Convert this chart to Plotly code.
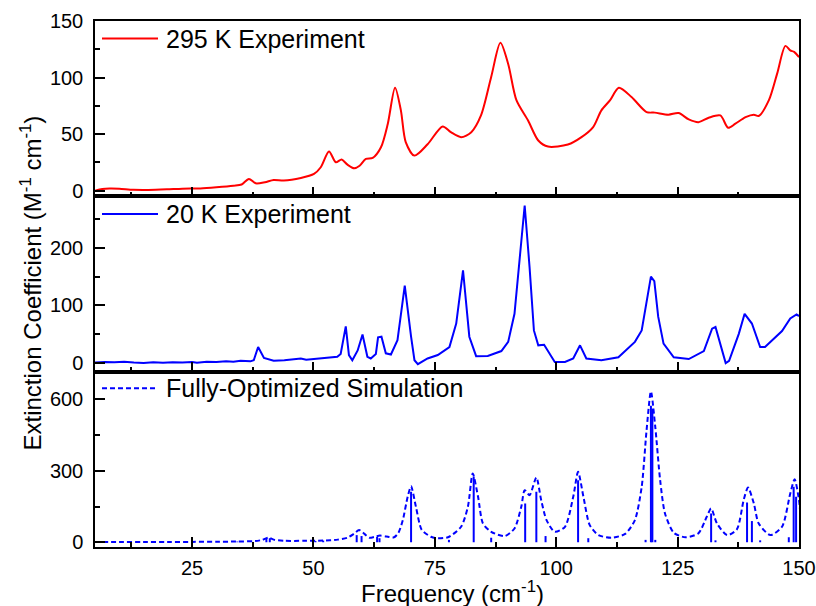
import plotly.graph_objects as go
from plotly.subplots import make_subplots

# ---------------- data ----------------
red_x = [5, 6.5, 8, 10, 12.9, 16, 19.8, 23, 26.7, 30, 33.5, 35.2, 36.7, 38.1, 40, 41.8,
         43.9, 47.4, 50.1, 51.5, 53.2, 54.6, 55.8, 57, 58.4, 59.5, 60.8, 62.2, 63.9, 65.3,
         66.8, 68, 69, 70.8, 73.5, 76.6, 78.3, 80.4, 82.5, 84.5, 86.6, 88.5, 90.1, 91.8,
         94.2, 96.3, 98.3, 102.4, 105.2, 107.6, 109.3, 111.1, 112.9, 115.5, 118.6, 120.3,
         123.1, 125.2, 127.3, 129.3, 131.4, 133.8, 135.4, 136.9, 139, 140.7, 141.7, 143.8,
         145.5, 147.2, 148.2, 149, 150]
red_y = [0, 1.5, 2, 1.8, 0.8, 0.7, 1.2, 1.8, 2, 3, 4.4, 5.5, 10.4, 6.5, 7.5, 9.5,
         8.9, 11.2, 14.8, 20.7, 34.6, 25.1, 27.5, 23, 19.8, 22, 28.1, 29, 38.4, 59,
         91, 71, 43, 31, 41, 56.8, 51.7, 47.3, 51.7, 66.5, 100.5, 130.7, 112, 80,
         62, 44.4, 39, 40.8, 47.3, 56.2, 71, 80, 91, 82.8, 69.5, 69,
         67.2, 68.6, 63, 60.6, 64.5, 66.5, 55.6, 59.2, 65, 67.2, 66, 80,
         103.5, 128, 124, 122.7, 118]

blue_x = [5, 7, 9, 11, 13, 15, 17, 19, 21, 23, 25, 26, 28, 30, 32, 33.5, 35, 37, 37.7,
          38.6, 39.8, 41.8, 44, 46, 47.4, 48.5, 51, 54.9, 55.6, 56.65, 57.3, 58.0, 59.1,
          60.1, 61.1, 61.8, 62.85, 63.3, 64.0, 64.9, 65.95, 67.3, 68.8, 69.4, 70.1, 70.8,
          71.5, 73.5, 75.6, 78, 79.4, 80.8, 82.1, 83.5, 85.9, 88.7, 90.1, 91.4, 93.5, 94.5,
          95.4, 96.3, 97.5, 99.7, 101.8, 103.5, 104.9, 106.2, 109.3, 112.8, 116.2, 117.6,
          119.5, 120.2, 121, 122.1, 124.2, 127.3, 130.4, 132.1, 132.8, 134.9, 135.6, 137.6,
          138.8, 140.3, 142, 143, 144.8, 146.5, 148.2, 149.5, 150]
blue_y = [0, 1, 0.5, 1.5, 0, -1, 0.5, -0.5, 0.5, 0, 1, -0.5, 1.5, 1, 2, 1.5, 3, 2, 4,
          27, 8, 3, 4, 5, 7, 5, 7, 10, 15, 63, 13, 4, 21,
          49, 10, 7, 15, 44, 45, 16, 14, 39, 134, 91, 45, 4,
          -3, 7, 13, 27, 68, 161, 45, 11, 11.5, 20, 36, 85, 274, 167,
          56, 30, 31, 1, 1, 7, 30, 7, 4, 9, 36, 56,
          150, 142, 80, 33, 9, 6, 20, 59, 62, -1, 3, 50,
          85, 68, 27, 27, 42, 55, 77, 84, 81]

sim_x = [5, 10, 15, 20, 25, 30, 34, 38, 39.5, 40.7, 42, 44, 48, 52, 55, 57, 58.3, 59.4,
         60.5, 61.5, 62.5, 63.7, 65, 66.6, 67.5, 68.4, 69.4, 70.1, 71.1, 72.3, 74.2, 75.2,
         77.7, 80.4, 81.8, 82.8, 83.9, 84.9, 86.6, 89.4, 91.4, 92.8, 93.5, 94.5, 95.9,
         96.9, 98, 99.7, 101.8, 103.5, 104.5, 105.6, 106.9, 108.7, 111.4, 114.2, 116.2,
         117.6, 118.6, 119.5, 120.4, 121.4, 122.4, 124.2, 126.6, 129.3, 131, 131.9, 133.1,
         135.2, 137.2, 138.6, 139.5, 140.7, 141.7, 144.1, 146.5, 148.2, 149.1, 150, 150.3]
sim_y = [1, 1, 1, 1, 1.5, 2, 3, 5, 10, 19, 10, 6, 6, 7, 11, 19, 35, 51,
         35, 19, 22, 28, 24, 21, 40, 93, 191, 235, 149, 52, 23, 17,
         21, 65, 149, 289, 191, 79, 44, 26, 58, 149, 219, 198, 272,
         177, 93, 44, 65, 191, 296, 191, 72, 30, 19, 35, 93,
         233, 470, 634, 484, 261, 121, 40, 21, 38, 107, 142, 79,
         30, 54, 177, 230, 163, 79, 30, 65, 205, 265, 177, 114]

stick_pos = [34.3, 40.3, 41.0, 50.4, 52.0, 58.9, 59.9, 63.1, 63.6, 70.1, 77.9, 83.0,
             86.6, 93.6, 95.9, 97.8, 104.5, 106.6, 118.4, 119.5, 119.8, 120.4, 131.9,
             132.8, 139.3, 140.3, 142.0, 147.9, 148.9, 149.4]
stick_h = [3, 17, 17, 5, 7, 30, 26, 23, 17, 212, 10, 275,
           19, 163, 212, 26, 261, 17, 10, 574, 561, 10, 121,
           8, 167, 89, 8, 21, 233, 191]

labels = ["295 K Experiment", "20 K Experiment", "Fully-Optimized Simulation"]
x_ticks = [25, 50, 75, 100, 125, 150]

# ---------------- figure ----------------
RED = "#ff0000"
BLUE = "#0000ff"
FONT = "Arial, Liberation Sans, sans-serif"

fig = make_subplots(rows=3, cols=1, shared_xaxes=True, vertical_spacing=0)

fig.add_trace(go.Scatter(x=red_x, y=red_y, mode="lines", line=dict(color=RED, width=2, shape="spline", smoothing=0.8),
                         showlegend=False), row=1, col=1)
fig.add_trace(go.Scatter(x=blue_x, y=blue_y, mode="lines", line=dict(color=BLUE, width=2),
                         showlegend=False), row=2, col=1)

sx, sy = [], []
for p, h in zip(stick_pos, stick_h):
    sx += [p, p, None]
    sy += [0, h, None]
fig.add_trace(go.Scatter(x=sx, y=sy, mode="lines", line=dict(color=BLUE, width=2),
                         showlegend=False), row=3, col=1)
fig.add_trace(go.Scatter(x=sim_x, y=sim_y, mode="lines",
                         line=dict(color=BLUE, width=2, dash="5px,3px", shape="spline", smoothing=0.7),
                         showlegend=False), row=3, col=1)

axis_common = dict(showline=True, linewidth=1.5, linecolor="black", mirror=True,
                   ticks="inside", ticklen=10, tickwidth=1.5, tickcolor="black",
                   showgrid=False, zeroline=False, automargin=False,
                   tickfont=dict(family=FONT, size=20, color="black"))

for r in (1, 2, 3):
    fig.update_xaxes(range=[5, 150], tickmode="array", tickvals=x_ticks,
                     minor=dict(ticks="inside", ticklen=5, tickwidth=1.5, tickcolor="black",
                                tickmode="array", tickvals=[12.5, 37.5, 62.5, 87.5, 112.5, 137.5]),
                     showticklabels=(r == 3), ticklabelstandoff=2, **axis_common, row=r, col=1)

fig.update_yaxes(range=[-5, 150], tickvals=[0, 50, 100, 150],
                 minor=dict(ticks="inside", ticklen=5, tickwidth=1.5, tickcolor="black", tickvals=[25, 75, 125]),
                 ticklabelstandoff=6, **axis_common, row=1, col=1)
fig.update_yaxes(range=[-16, 290], tickvals=[0, 100, 200],
                 minor=dict(ticks="inside", ticklen=5, tickwidth=1.5, tickcolor="black", tickvals=[50, 150, 250]),
                 ticklabelstandoff=6, **axis_common, row=2, col=1)
fig.update_yaxes(range=[-20, 717], tickvals=[0, 300, 600],
                 minor=dict(ticks="inside", ticklen=5, tickwidth=1.5, tickcolor="black", tickvals=[150, 450]),
                 ticklabelstandoff=6, **axis_common, row=3, col=1)

W, H = 816, 606
L, R, T, B = 95, 17, 21, 59
PW, PH = W - L - R, H - T - B

def px2paper(px, py):
    return (px - L) / PW, (H - B - py) / PH

# legends (manual, to match sample length)
legend_rows = [(38.5, RED, "solid"), (214, BLUE, "solid"), (388.3, BLUE, "5px,3px")]
for (py, col, dash), txt in zip(legend_rows, labels):
    x0, y0 = px2paper(102, py)
    x1, _ = px2paper(158, py)
    fig.add_shape(type="line", xref="paper", yref="paper", x0=x0, x1=x1, y0=y0, y1=y0,
                  line=dict(color=col, width=2, dash=dash))
    tx, ty = px2paper(164, py)
    fig.add_annotation(text=txt, xref="paper", yref="paper", x=tx, y=ty, xanchor="left",
                       yanchor="middle", showarrow=False,
                       font=dict(family=FONT, size=25, color="black"))

# axis titles
ax, ay = px2paper(452, 592)
fig.add_annotation(text="Frequency (cm<sup>-1</sup>)", xref="paper", yref="paper", x=ax, y=ay,
                   xanchor="center", yanchor="middle", showarrow=False,
                   font=dict(family=FONT, size=24, color="black"))
bx, by = px2paper(30, 283.5)
fig.add_annotation(text="Extinction Coefficient (M<sup>-1</sup> cm<sup>-1</sup>)", xref="paper", yref="paper",
                   x=bx, y=by, xanchor="center", yanchor="middle", textangle=-90, showarrow=False,
                   font=dict(family=FONT, size=24, color="black"))

fig.update_layout(width=W, height=H, margin=dict(l=L, r=R, t=T, b=B, autoexpand=False),
                  plot_bgcolor="white", paper_bgcolor="white", showlegend=False)

fig.write_html("out.html", config={"displayModeBar": False},
               post_script="document.body.style.margin='0';document.body.style.overflow='hidden';")
